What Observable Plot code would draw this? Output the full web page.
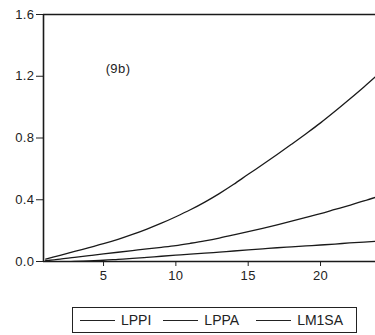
<!DOCTYPE html>
<html>
<head>
<meta charset="utf-8">
<script src="https://cdn.jsdelivr.net/npm/d3@7"></script>
<script src="https://cdn.jsdelivr.net/npm/@observablehq/plot@0.6"></script>
<style>
  html, body { margin: 0; padding: 0; background: #fff; }
  #wrap { position: relative; width: 375px; height: 335px; overflow: hidden; font-family: "Liberation Sans", Arial, sans-serif; }
  #legend { position: absolute; left: 72px; top: 307px; width: 285px; height: 26px; border: 1px solid #222; box-sizing: border-box;
            display: flex; align-items: center; font-size: 14px; color: #222; }
  .item { display: flex; align-items: center; }
  .sw { display: inline-block; height: 0; border-top: 1.2px solid #222; margin-right: 6px; }
  svg text { letter-spacing: 0.4px; }
</style>
</head>
<body>
<div id="wrap">
  <div id="chart"></div>
  <div id="legend"></div>
</div>
<script>
const periods = [1,2,3,4,5,6,7,8,9,10,11,12,13,14,15,16,17,18,19,20,21,22,23,24];
const seriesNames = ["LPPI", "LPPA", "LM1SA"];
const LPPI  = [0.015,0.04,0.065,0.09,0.115,0.143,0.175,0.21,0.248,0.29,0.335,0.385,0.44,0.50,0.565,0.628,0.693,0.76,0.828,0.898,0.973,1.051,1.131,1.214];
const LPPA  = [0.005,0.015,0.027,0.038,0.049,0.06,0.071,0.082,0.092,0.103,0.118,0.134,0.152,0.172,0.193,0.215,0.238,0.262,0.286,0.31,0.337,0.364,0.392,0.422];
const LM1SA = [0.0,-0.003,0.0,0.004,0.008,0.014,0.02,0.027,0.034,0.041,0.048,0.054,0.061,0.068,0.075,0.082,0.089,0.095,0.101,0.107,0.113,0.12,0.126,0.132];
const xTicks = [5, 10, 15, 20];
const yTicks = [0, 0.4, 0.8, 1.2, 1.6];
const xDomain = [0.85, 23.8];
const panelLabel = [{x: 6, y: 1.25, text: "(9b)"}];

const valuesBySeries = {LPPI, LPPA, LM1SA};
const data = seriesNames.flatMap(s => periods.map((p, i) => ({series: s, x: p, y: valuesBySeries[s][i]})));

const chart = Plot.plot({
  width: 375,
  height: 290,
  marginTop: 14,
  marginBottom: 29,
  marginLeft: 43,
  marginRight: 0,
  style: {fontFamily: "'Liberation Sans', Arial, sans-serif", fontSize: "13px", color: "#222", background: "white"},
  x: {domain: xDomain, ticks: xTicks, tickSize: 5, tickPadding: 4, label: null},
  y: {domain: [yTicks[0], yTicks[yTicks.length - 1]], ticks: yTicks, tickFormat: d3.format(".1f"), tickSize: 7, tickPadding: 2, label: null},
  marks: [
    Plot.line(data, {x: "x", y: "y", z: "series", stroke: "#1a1a1a", strokeWidth: 1.3, curve: "monotone-x", clip: true}),
    Plot.ruleY([yTicks[0], yTicks[yTicks.length - 1]], {stroke: "#1a1a1a", strokeWidth: 1.6}),
    Plot.ruleX([xDomain[0]], {stroke: "#1a1a1a", strokeWidth: 1.6}),
    Plot.text(panelLabel, {x: "x", y: "y", text: "text", fontSize: 13, fill: "#222"})
  ]
});
document.getElementById("chart").appendChild(chart);

const legend = document.getElementById("legend");
const swWidths = [35, 35, 35];
const gaps = [7, 12, 17];
seriesNames.forEach((s, i) => {
  const it = document.createElement("span");
  it.className = "item";
  it.style.marginLeft = gaps[i] + "px";
  const sw = document.createElement("span");
  sw.className = "sw";
  sw.style.width = swWidths[i] + "px";
  it.appendChild(sw);
  it.appendChild(document.createTextNode(s));
  legend.appendChild(it);
});
</script>
</body>
</html>
